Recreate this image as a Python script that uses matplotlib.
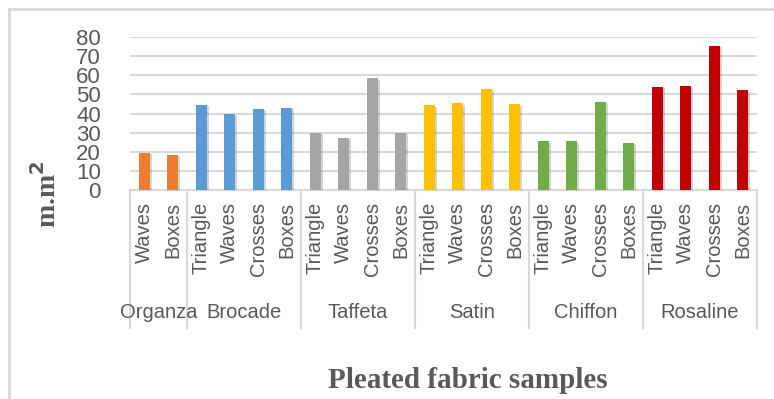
import numpy as np
import matplotlib.pyplot as plt
from matplotlib import patheffects as pe
from matplotlib.lines import Line2D

# fabric groups and pleat patterns
fabrics = ['Organza', 'Brocade', 'Taffeta', 'Satin', 'Chiffon', 'Rosaline']
organza = ['Waves', 'Boxes']
patterns = ['Triangle', 'Waves', 'Crosses', 'Boxes']

organza_vals = [19.5, 18.5]
brocade_vals = [44.7, 39.6, 42.3, 43.0]
taffeta_vals = [29.8, 27.3, 58.4, 29.8]
satin_vals = [44.3, 45.4, 52.7, 44.9]
chiffon_vals = [25.4, 25.4, 46.1, 24.7]
rosaline_vals = [53.9, 54.6, 75.4, 52.2]

colors = ['#ED7D31', '#5B9BD5', '#A5A5A5', '#FFC000', '#70AD47', '#C00000']

groups = [organza_vals, brocade_vals, taffeta_vals, satin_vals, chiffon_vals, rosaline_vals]
group_labels = [organza] + [patterns] * 5

W, H = 774, 399
fig = plt.figure(figsize=(W / 100, H / 100), dpi=100)
ax = fig.add_axes([130 / W, 1 - 190 / H, (757 - 130) / W, (190 - 37) / H])

txt = '#595959'
grid = '#D9D9D9'
tick_font = 'Liberation Sans'

x0 = 0
edges = [-0.5]
for vals, labs, col, name in zip(groups, group_labels, colors, fabrics):
    xs = np.arange(x0, x0 + len(vals))
    ax.bar(xs, vals, width=0.38, color=col, zorder=3,
           path_effects=[pe.SimplePatchShadow(offset=(1.5, -1.0), alpha=0.25, shadow_rgbFace='#555555'),
                         pe.Normal()])
    for x, lab in zip(xs, labs):
        ax.text(x, -0.08, lab, transform=ax.get_xaxis_transform(), rotation=90,
                ha='center', va='top', fontsize=14.5, color=txt, family=tick_font)
    ax.text(xs.mean(), -0.80, name, transform=ax.get_xaxis_transform(),
            ha='center', va='center', fontsize=14.5, color=txt, family=tick_font)
    x0 += len(vals)
    edges.append(x0 - 0.5)

for e in edges:
    ax.plot([e, e], [0, -0.90], transform=ax.get_xaxis_transform(), color=grid,
            lw=1.5, clip_on=False, zorder=1)

ax.set_xlim(-0.5, x0 - 0.5)
ax.set_ylim(0, 80)
ax.set_yticks(np.arange(0, 81, 10))
ax.set_xticks([])
ax.yaxis.grid(True, color=grid, lw=1.5, zorder=0)
ax.tick_params(axis='y', length=0, pad=21, labelsize=16, labelcolor=txt)
for lab in ax.get_yticklabels():
    lab.set_family(tick_font)
for s in ['left', 'right', 'top']:
    ax.spines[s].set_visible(False)
ax.spines['bottom'].set_color(grid)
ax.spines['bottom'].set_linewidth(1.5)

fig.text(47 / W, 1 - 194 / H, 'm.m$^\\mathbf{2}$', rotation=90, ha='center', va='center',
         fontsize=20, fontweight='bold', family='Liberation Serif', color=txt)
fig.text(468 / W, 1 - 381 / H, 'Pleated fabric samples', ha='center', va='center',
         fontsize=21, fontweight='bold', family='Liberation Serif', color=txt)

# outer chart border (cropped on right and bottom)
fig.add_artist(Line2D([9 / W, 9 / W], [0, 1 - 9 / H], color=grid, lw=2))
fig.add_artist(Line2D([9 / W, 1], [1 - 9 / H, 1 - 9 / H], color=grid, lw=2))

fig.savefig('out.png', dpi=100, facecolor='white')
